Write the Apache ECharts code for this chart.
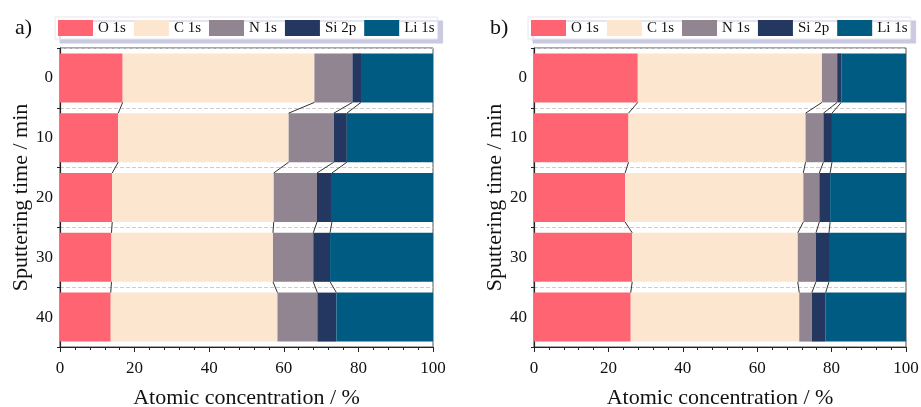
<!DOCTYPE html>
<html>
<head>
<meta charset="utf-8">
<script src="https://cdn.jsdelivr.net/npm/echarts@6/dist/echarts.min.js"></script>
<style>
  html, body { margin: 0; padding: 0; background: #fff; }
  #chart { width: 921px; height: 407px; }
</style>
</head>
<body>
<div id="chart"></div>
<script>
const times = ['0', '10', '20', '30', '40']
const names = ['O 1s', 'C 1s', 'N 1s', 'Si 2p', 'Li 1s']

// panel a)
const aO = [16.8, 15.6, 14.0, 13.8, 13.6]
const aC = [51.4, 45.7, 43.3, 43.3, 44.7]
const aN = [10.2, 12.1, 11.6, 10.8, 10.7]
const aSi = [2.3, 3.5, 4.0, 4.5, 5.1]
const aLi = [19.3, 23.1, 27.1, 27.6, 25.9]

// panel b)
const bO = [27.9, 25.4, 24.5, 26.4, 26.0]
const bC = [49.5, 47.6, 47.9, 44.5, 45.3]
const bN = [4.1, 4.8, 4.3, 4.9, 3.4]
const bSi = [1.1, 2.3, 2.9, 3.5, 3.7]
const bLi = [17.4, 19.9, 20.4, 20.7, 21.6]

const colors = ['#ff6472', '#fde6d0', '#918591', '#233760', '#005b82']
const font = "'Liberation Serif', 'Times New Roman', serif"
const half = 0.41

const chart = echarts.init(document.getElementById('chart'))

function connectors(parts) {
  // boundaries between stacked parts, linked from one bar to the next,
  // one line series with gaps between the segments
  const pts = []
  for (let i = 0; i < times.length - 1; i++) {
    let c1 = 0, c2 = 0
    for (let k = 0; k < parts.length - 1; k++) {
      c1 += parts[k][i]
      c2 += parts[k][i + 1]
      pts.push([c1, i + half], [c2, i + 1 - half], '-')
    }
  }
  return pts
}

function panel(idx, parts) {
  const series = parts.map((vals, k) => ({
    name: names[k],
    type: 'bar',
    stack: 'p' + idx,
    xAxisIndex: idx,
    yAxisIndex: idx * 2,
    barWidth: '82%',
    itemStyle: { color: colors[k] },
    data: vals
  }))
  series.push({
    type: 'line',
    xAxisIndex: idx,
    yAxisIndex: idx * 2 + 1,
    silent: true,
    symbol: 'none',
    showSymbol: false,
    connectNulls: false,
    lineStyle: { color: '#333', width: 1 },
    data: connectors(parts)
  })
  return series
}

const grids = [
  { left: 60, top: 48, width: 373, height: 299 },
  { left: 534, top: 48, width: 372, height: 299 }
]

const xAxes = grids.map((g, i) => ({
  type: 'value', gridIndex: i, min: 0, max: 100, interval: 20,
  name: 'Atomic concentration / %', nameLocation: 'middle', nameGap: 40,
  nameTextStyle: { fontFamily: font, fontSize: 22, color: '#111' },
  axisLine: { show: true, onZero: false, lineStyle: { color: '#222', width: 1.2 } },
  axisTick: { show: true, length: 5, lineStyle: { color: '#222' } },
  minorTick: { show: true, splitNumber: 5, length: 3, lineStyle: { color: '#222' } },
  splitLine: { show: false },
  axisLabel: { fontFamily: font, fontSize: 17, color: '#111', margin: 13 }
}))

const yAxes = []
grids.forEach((g, i) => {
  yAxes.push({
    type: 'category', gridIndex: i, data: times, inverse: true,
    name: 'Sputtering time / min', nameLocation: 'middle', nameGap: 25,
    nameTextStyle: { fontFamily: font, fontSize: 22, color: '#111' },
    axisLine: { show: true, onZero: false, lineStyle: { color: '#222', width: 1.2 } },
    axisTick: { show: true, length: 3, lineStyle: { color: '#222' } },
    splitLine: { show: true, lineStyle: { color: '#ccc', type: 'dashed', width: 1 } },
    axisLabel: { fontFamily: font, fontSize: 17, color: '#111', margin: 7 }
  })
  yAxes.push({
    type: 'value', gridIndex: i, min: -0.5, max: 4.5, inverse: true, show: false,
    axisLine: { onZero: false }
  })
})

const legends = [55, 528].map(left => ({
  left: left, top: 17,
  data: names,
  itemWidth: 35, itemHeight: 16, itemGap: 8,
  icon: 'rect',
  padding: [3, 3, 3, 3],
  backgroundColor: '#fff',
  borderColor: '#e6e6ee', borderWidth: 1,
  shadowColor: '#c9c9e2', shadowOffsetX: 5, shadowOffsetY: 4, shadowBlur: 0,
  selectedMode: false,
  textStyle: { fontFamily: font, fontSize: 15, color: '#111' }
}))

chart.setOption({
  animation: false,
  backgroundColor: '#fff',
  textStyle: { fontFamily: font },
  title: [
    { text: 'a)', left: 10, top: 12, textStyle: { fontFamily: font, fontSize: 22, fontWeight: 'normal', color: '#111' } },
    { text: 'b)', left: 485, top: 12, textStyle: { fontFamily: font, fontSize: 22, fontWeight: 'normal', color: '#111' } }
  ],
  legend: legends,
  grid: grids.map(g => ({
    ...g, outerBoundsMode: 'none', containLabel: false,
    show: true, borderColor: '#555', borderWidth: 1, backgroundColor: 'transparent'
  })),
  xAxis: xAxes,
  yAxis: yAxes,
  series: [
    ...panel(0, [aO, aC, aN, aSi, aLi]),
    ...panel(1, [bO, bC, bN, bSi, bLi])
  ]
})
</script>
</body>
</html>
